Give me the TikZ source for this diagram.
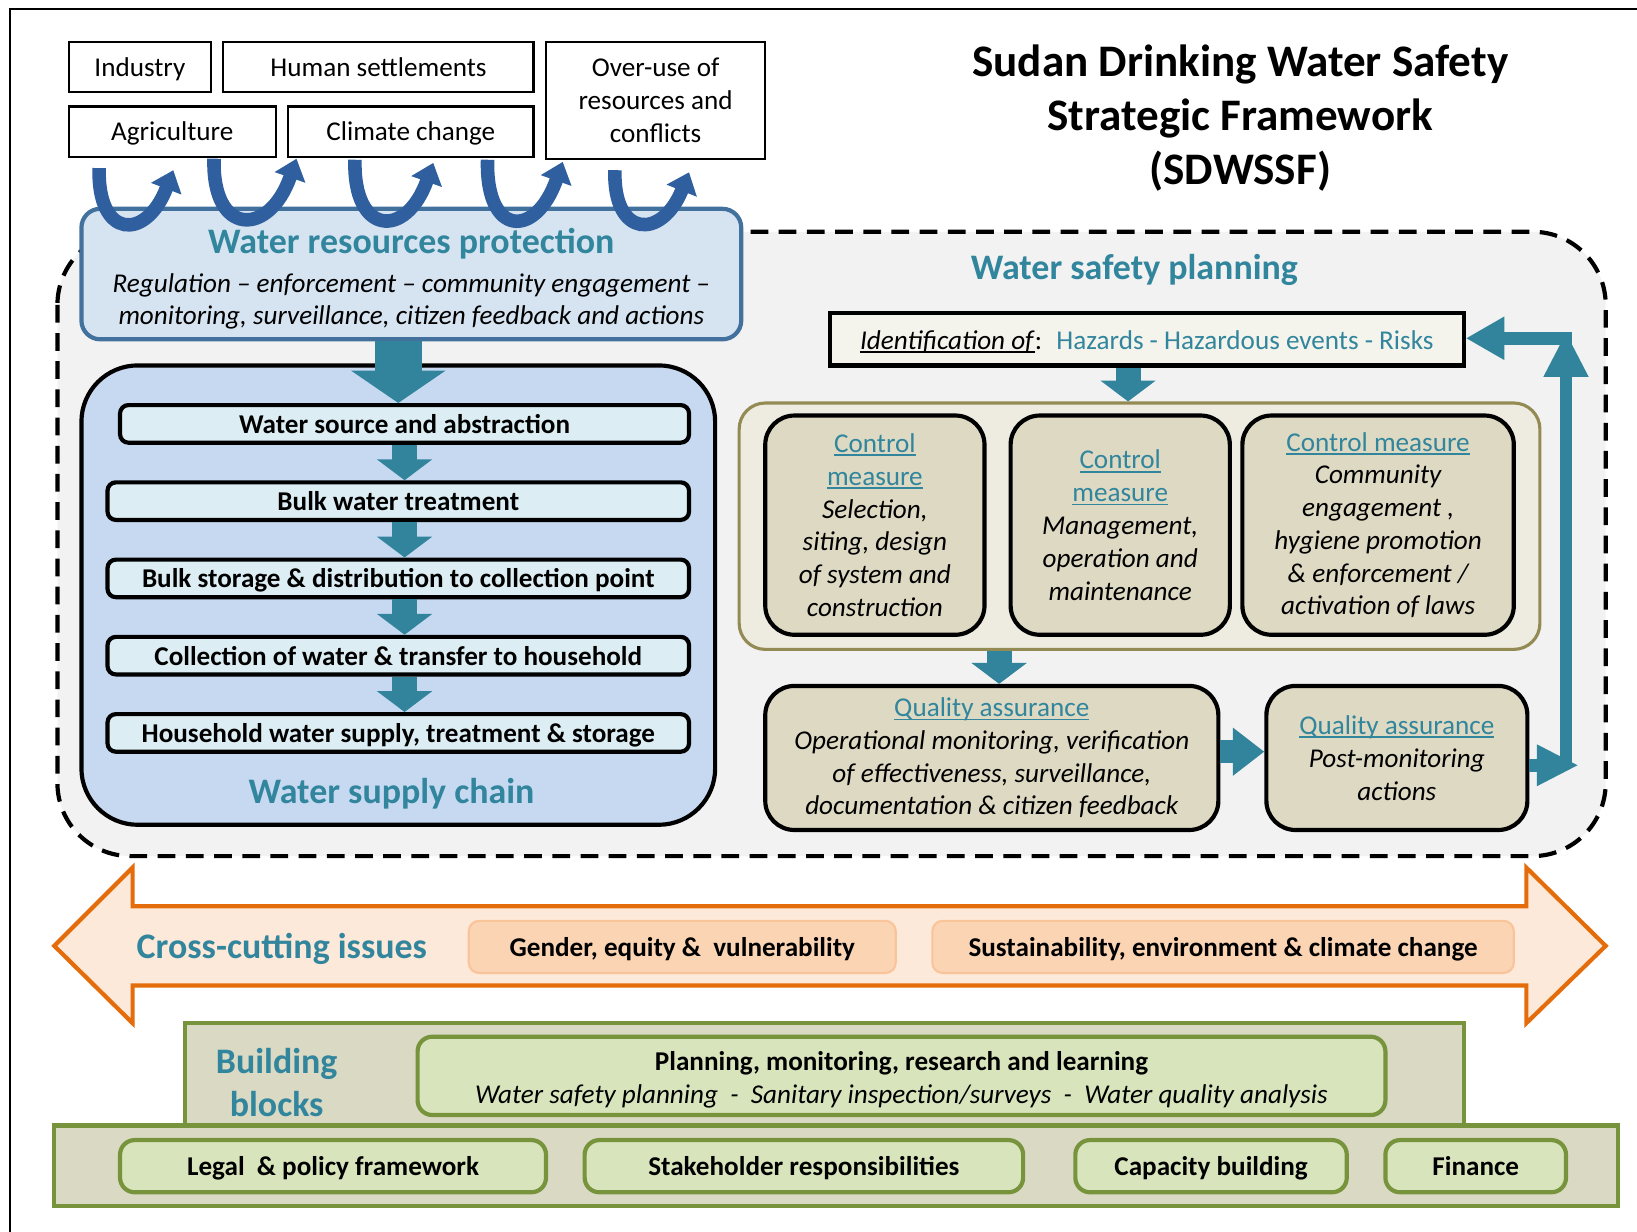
\documentclass[tikz,border=0pt]{standalone}
\usepackage{fontspec}
\setmainfont{Carlito}
\usepackage{tikz}
\usetikzlibrary{arrows.meta}
\definecolor{tealtxt}{HTML}{31859C}
\definecolor{tealarr}{HTML}{31849B}
\definecolor{ublue}{HTML}{2F5F9E}
\definecolor{protfill}{HTML}{D6E3F0}
\definecolor{protline}{HTML}{41719C}
\definecolor{chainfill}{HTML}{C6D9F1}
\definecolor{stepfill}{HTML}{DCEEF4}
\definecolor{regfill}{HTML}{F2F2F2}
\definecolor{olivefill}{HTML}{EEECE1}
\definecolor{oliveline}{HTML}{948A54}
\definecolor{tanfill}{HTML}{DDD9C3}
\definecolor{identfill}{HTML}{F4F3EC}
\definecolor{orangeline}{HTML}{E46C0A}
\definecolor{peach}{HTML}{FDE9D9}
\definecolor{peachbox}{HTML}{FBD4B4}
\definecolor{peachline}{HTML}{F9C49A}
\definecolor{greenline}{HTML}{77933C}
\definecolor{greenfill}{HTML}{D8E4BC}
\definecolor{blockfill}{HTML}{DAD9C3}
\newsavebox\ulbox
\newcommand{\undl}[1]{\leavevmode\sbox\ulbox{#1}\rlap{\rule[-1.8pt]{\wd\ulbox}{0.9pt}}\usebox\ulbox}
\newcommand{\cmh}[1]{{\upshape\color{tealtxt}\undl{#1}}}
\newcommand{\hdfont}{\fontsize{17.2}{20.5}\selectfont\bfseries\color{tealtxt}}
\tikzset{
  body/.style={font=\fontsize{13}{15.7}\selectfont},
  bodyb/.style={font=\fontsize{13}{15.7}\selectfont\bfseries},
  bodyi/.style={font=\fontsize{13}{15.7}\selectfont\itshape},
  head/.style={font=\fontsize{17.2}{20.5}\selectfont\bfseries, text=tealtxt},
  oneline/.style={text height=10pt, text depth=1pt},
  topbox/.style={body, draw, line width=1pt, fill=white, inner sep=0pt, align=center},
  protbox/.style={draw=protline, line width=2pt, fill=protfill, rounded corners=9pt, inner sep=0pt},
  region/.style={draw, line width=2pt, dash pattern=on 8.5pt off 5pt, fill=regfill, rounded corners=35pt},
  chainbox/.style={draw, line width=2pt, fill=chainfill, rounded corners=27pt},
  stepbox/.style={draw, line width=2pt, fill=stepfill, rounded corners=4pt, inner sep=0pt, bodyb},
  identbox/.style={draw, line width=2pt, fill=identfill, inner sep=0pt, body, text height=10.8pt, text depth=1pt},
  olivebox/.style={draw=oliveline, line width=1.5pt, fill=olivefill, rounded corners=12.5pt},
  cmbox/.style={draw, line width=2pt, fill=tanfill, rounded corners=14pt, inner sep=0pt, bodyi, align=center},
  ccarrow/.style={draw=orangeline, line width=2pt, fill=peach},
  ccbox/.style={draw=peachline, line width=1pt, fill=peachbox, rounded corners=5pt, inner sep=0pt, bodyb, oneline},
  bbframe/.style={draw=greenline, line width=2pt, fill=blockfill},
  bbbox/.style={draw=greenline, line width=2pt, fill=greenfill, rounded corners=7pt, inner sep=0pt, bodyb},
  tarrow/.style={draw=tealarr, line width=12pt, -{Triangle[length=10pt,width=26pt]}},
  farrow/.style={draw=tealarr, line width=6pt, -{Triangle[length=20pt,width=20pt]}},
  uarrow/.style={draw=ublue, line width=6.5pt, -{Triangle[length=9.5pt,width=15pt]}}
}
\begin{document}
\begin{tikzpicture}[x=0.5pt, y=-0.5pt]
  \useasboundingbox (0,0) rectangle (1568,1180);
  \draw[line width=1pt] (10,1180) -- (10,9) -- (1568,9);

  % water safety planning region (behind everything)
  \draw[region] (55,222) rectangle (1538,820);

  % pressures
  \node[topbox, oneline, minimum width=68pt, minimum height=24pt] (ind) at (134,64) {Industry};
  \node[topbox, oneline, minimum width=148.5pt, minimum height=24pt] (hum) at (362.5,64) {Human settlements};
  \node[topbox, oneline, minimum width=99pt, minimum height=24pt] (agr) at (165,126) {Agriculture};
  \node[topbox, oneline, minimum width=117.5pt, minimum height=24pt] (cli) at (393.5,126) {Climate change};
  \node[topbox, minimum width=105pt, minimum height=56pt] (ovr) at (628,96) {Over-use of\\resources and\\conflicts};

  \node[font=\fontsize{21.6}{26}\selectfont\bfseries, align=center] (ttl) at (1188,113)
    {Sudan Drinking Water Safety\\Strategic Framework\\(SDWSSF)};

  % protection
  \node[protbox, minimum width=316pt, minimum height=62.5pt] (wrp) at (394,262.5) {};
  \node[body, align=center] (wrpt) at (394,267)
    {{\hdfont Water resources protection}\\[3pt]
     \textit{Regulation -- enforcement -- community engagement --}\\
     \textit{monitoring, surveillance, citizen feedback and actions}};
  \foreach \xa/\ya/\xb/\yb/\dep in {95/161/166/163/68, 205/152/284/152/75, 340/153/415/156/73,
                                    467/153/539/155/74, 589/163/660/165/65}
    \draw[uarrow] (\xa,\ya) .. controls ({\xa-2},{\ya+\dep}) and ({\xb-26},{\yb+\dep}) .. (\xb,\yb);

  % supply chain
  \node[chainbox, minimum width=303.5pt, minimum height=220pt] (sch) at (381.5,570) {};
  \node[stepbox, minimum width=272.5pt, minimum height=18pt] (s1) at (387.5,406) {Water source and abstraction};
  \node[stepbox, minimum width=278.5pt, minimum height=18pt] (s2) at (381.5,480) {Bulk water treatment};
  \node[stepbox, oneline, minimum width=278.5pt, minimum height=18pt] (s3) at (381.5,554) {Bulk storage \& distribution to collection point};
  \node[stepbox, minimum width=278.5pt, minimum height=18pt] (s4) at (381.5,628) {Collection of water \& transfer to household};
  \node[stepbox, oneline, minimum width=278.5pt, minimum height=18pt] (s5) at (381.5,702) {Household water supply, treatment \& storage};
  \node[head] (wsc) at (375,760) {Water supply chain};
  \draw[tarrow, line width=22.5pt, -{Triangle[length=15.5pt,width=44.5pt]}]
    (wrp.south -| sch.north) -- (s1.north -| sch.north);
  \foreach \pa/\pb in {s1/s2, s2/s3, s3/s4, s4/s5}
    \draw[tarrow] (\pa.south -| s1.south) -- (\pb.north -| s1.south);

  % water safety planning
  \node[head] (wsp) at (1086.5,259) {Water safety planning};
  \node[identbox, minimum width=303.5pt, minimum height=25pt] (idf) at (1098.5,325)
    {\undl{\textit{Identification of}}:~ \textcolor{tealtxt}{Hazards - Hazardous events - Risks}};
  \node[olivebox, minimum width=383.5pt, minimum height=118pt] (olv) at (1091.5,504) {};
  \node[cmbox, minimum width=105pt, minimum height=105pt] (cm1) at (838,503)
    {\cmh{Control}\\\cmh{measure}\\Selection,\\siting, design\\of system and\\construction};
  \node[cmbox, minimum width=105pt, minimum height=105pt] (cm2) at (1073,503)
    {\cmh{Control}\\\cmh{measure}\\Management,\\operation and\\maintenance};
  \node[cmbox, minimum width=130pt, minimum height=105pt] (cm3) at (1320,503)
    {\cmh{Control measure}\\Community\\engagement ,\\hygiene promotion\\\& enforcement /\\activation of laws};
  \node[cmbox, minimum width=217pt, minimum height=69pt] (qa1) at (950,726)
    {\cmh{Quality assurance}\\Operational monitoring, verification\\of effectiveness, surveillance,\\documentation \& citizen feedback};
  \node[cmbox, minimum width=125pt, minimum height=69pt] (qa2) at (1338,726)
    {\cmh{Quality assurance}\\Post-monitoring\\actions};
  \draw[tarrow] ([xshift=-9pt]idf.south) -- ([xshift=-9pt]idf.south |- olv.north);
  \draw[tarrow] ([xshift=3.5pt]qa1.north |- olv.south) -- ([xshift=3.5pt]qa1.north);
  \draw[tarrow, line width=11pt, -{Triangle[length=15pt,width=22pt]}]
    ([yshift=3pt]qa1.east) -- ([yshift=3pt]qa1.east -| qa2.west);

  % feedback loop
  \coordinate (crn) at (1500,324);
  \coordinate (fbk) at (1500,733);
  \draw[farrow, -{Triangle[length=21.5pt,width=20pt]}] ([yshift=-1pt]fbk) -- ([yshift=3pt]crn);
  \draw[farrow, -{Triangle[length=18.5pt,width=19.5pt]}] ([xshift=3pt]crn) -- (crn -| idf.east);
  \draw[farrow, -{Triangle[length=20pt,width=18.5pt]}] ([yshift=-3.5pt]qa2.east) -- ([xshift=6pt]fbk);

  % cross-cutting issues
  \draw[ccarrow] (52,906) -- (127,831) -- (127,868) -- (1462,868) -- (1462,831) -- (1538,906)
    -- (1462,980) -- (1462,944) -- (127,944) -- (127,980) -- cycle;
  \node[head] (cci) at (270,909) {Cross-cutting issues};
  \node[ccbox, minimum width=204.5pt, minimum height=25pt] (gen) at (653.5,907) {Gender, equity \&~ vulnerability};
  \node[ccbox, minimum width=278.5pt, minimum height=25pt] (sus) at (1171.5,907) {Sustainability, environment \& climate change};

  % building blocks
  \draw[bbframe] (177,980) rectangle (1402,1080);
  \draw[bbframe] (52,1078) rectangle (1550,1155);
  \node[head, align=center] (bbl) at (265,1037) {Building\\blocks};
  \node[bbbox, minimum width=463.5pt, minimum height=37.5pt] (pml) at (863.5,1030.5) {};
  \node[bodyb, align=center] (pmlt) at (863.5,1034)
    {Planning, monitoring, research and learning\\
     {\mdseries\itshape Water safety planning~~-~~Sanitary inspection/surveys~~-~~Water quality analysis}};
  \node[bbbox, oneline, minimum width=204pt, minimum height=25pt] (leg) at (319,1117) {Legal~ \& policy framework};
  \node[bbbox, oneline, minimum width=210pt, minimum height=25pt] (stk) at (770,1117) {Stakeholder responsibilities};
  \node[bbbox, oneline, minimum width=130pt, minimum height=25pt] (cap) at (1160,1117) {Capacity building};
  \node[bbbox, oneline, minimum width=86.5pt, minimum height=25pt] (fin) at (1413.5,1117) {Finance};
\end{tikzpicture}
\end{document}
